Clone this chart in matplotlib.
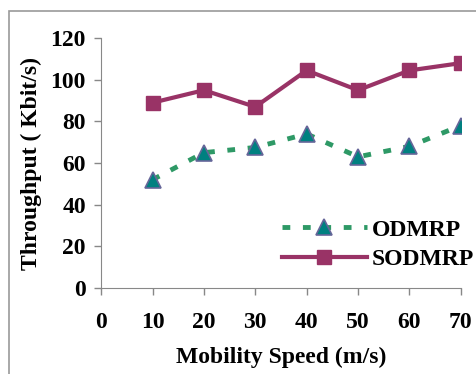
import matplotlib
matplotlib.use("Agg")
import matplotlib.pyplot as plt
from matplotlib.patches import Rectangle

speed = [10, 20, 30, 40, 50, 60, 70]
odmrp = [52, 65, 67.5, 74, 63, 68, 78]
sodmrp = [89, 95, 87, 104.5, 95, 104.5, 108]

plt.rcParams['font.family'] = ['Liberation Serif', 'DejaVu Serif']
plt.rcParams['font.weight'] = 'bold'

fig = plt.figure(figsize=(4.77, 3.74), dpi=100)
ax = fig.add_axes([0.212, 0.23, 0.754, 0.668])

# outer frame
fig.patches.append(Rectangle((0.019, -0.05), 1.1, 1.02, transform=fig.transFigure,
                             fill=False, edgecolor='#999999', linewidth=1.2))

ax.plot(speed, odmrp, linestyle=(0, (1.6, 2.6)), color='#2e9966', linewidth=3.5,
        marker='^', markersize=11, markerfacecolor='#008080',
        markeredgecolor='#666699', markeredgewidth=1.2, label='ODMRP')
ax.plot(speed, sodmrp, linestyle='-', color='#993366', linewidth=3,
        marker='s', markersize=10, markerfacecolor='#993366',
        markeredgecolor='#993366', label='SODMRP')

ax.set_xlim(0, 70)
ax.set_ylim(0, 120)
ax.set_xticks(range(0, 71, 10))
ax.set_yticks(range(0, 121, 20))
for s in ['top', 'right']:
    ax.spines[s].set_visible(False)
ax.spines['left'].set_color('#888888')
ax.spines['bottom'].set_color('#888888')
ax.tick_params(axis='both', direction='out', length=5, color='#888888',
               labelsize=17, width=1)
ax.tick_params(axis='x', pad=12)
ax.tick_params(axis='y', pad=6)
for lab in ax.get_xticklabels() + ax.get_yticklabels():
    lab.set_fontweight('bold')

ax.set_xlabel('Mobility Speed (m/s)', fontsize=17, fontweight='bold', labelpad=10)
ax.set_ylabel('Throughput ( Kbit/s)', fontsize=17, fontweight='bold', labelpad=6)

ax.legend(loc='lower right', bbox_to_anchor=(1.095, -0.015), frameon=False,
          handlelength=3.6, handletextpad=0.2, labelspacing=0.35,
          prop={'weight': 'bold', 'size': 17})

fig.savefig('out.png', dpi=100)
